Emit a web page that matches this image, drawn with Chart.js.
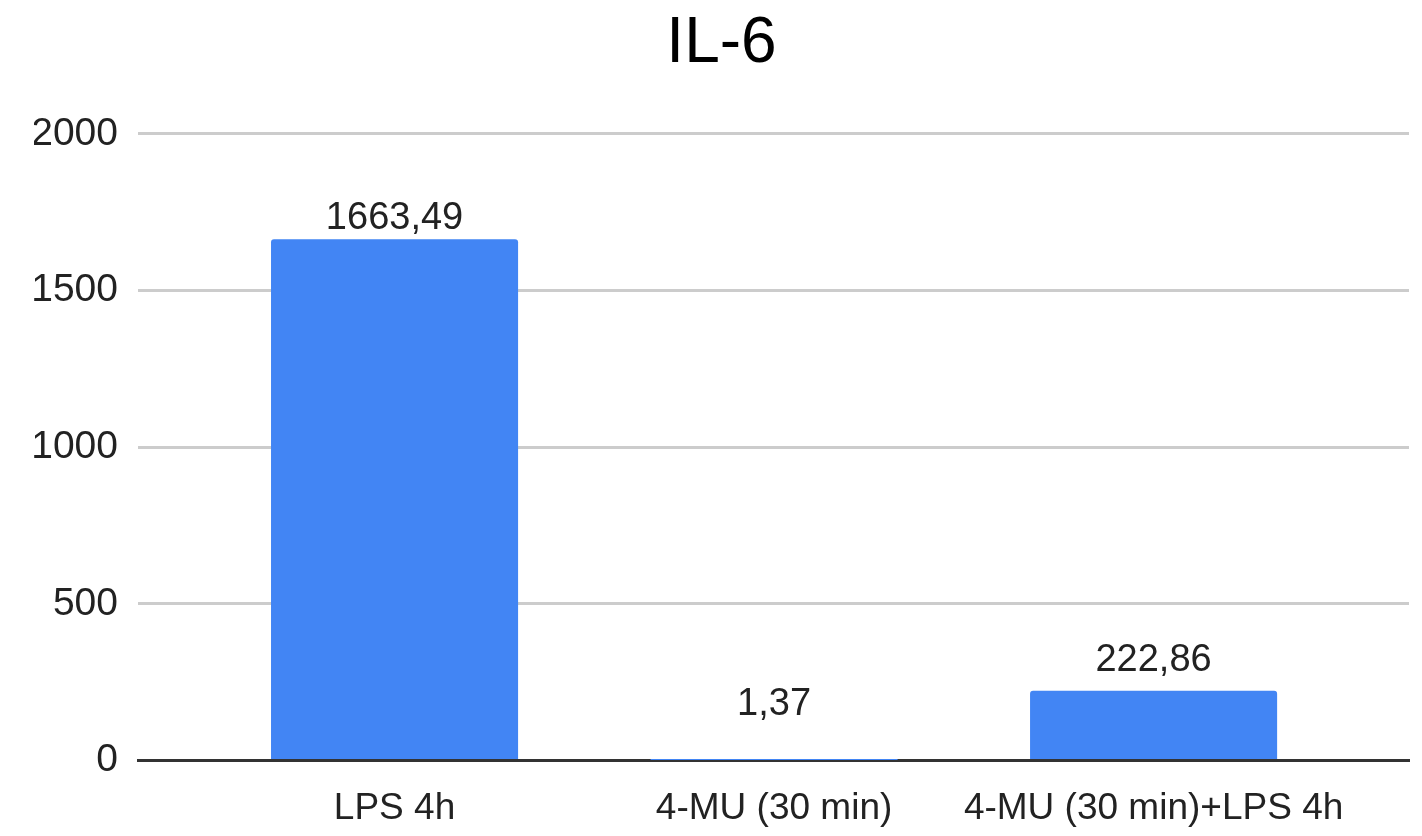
<!DOCTYPE html>
<html>
<head>
<meta charset="utf-8">
<title>IL-6</title>
<script src="https://cdn.jsdelivr.net/npm/chart.js@4"></script>
<style>
  html, body { margin: 0; padding: 0; background: #ffffff; }
  canvas { display: block; }
</style>
</head>
<body>
<canvas id="chart" width="1422" height="836"></canvas>
<script>
// IL-6 levels per treatment group
const chartTitle = 'IL-6';
const categories = ['LPS 4h', '4-MU (30 min)', '4-MU (30 min)+LPS 4h'];
const il6Values = [1663.49, 1.37, 222.86];
const yTickValues = [0, 500, 1000, 1500, 2000];

const FONT = '"Liberation Sans", Arial, sans-serif';

// Decimal comma formatting, e.g. 1663,49
const formatValue = v => v.toFixed(2).replace('.', ',');

// Writes each bar's value above it
const valueLabels = {
  id: 'valueLabels',
  afterDatasetsDraw(chart, args, opts) {
    const ctx = chart.ctx;
    const meta = chart.getDatasetMeta(0);
    const data = chart.data.datasets[0].data;
    ctx.save();
    ctx.font = `${opts.size}px ${FONT}`;
    ctx.fillStyle = opts.color;
    ctx.textAlign = 'center';
    ctx.textBaseline = 'alphabetic';
    meta.data.forEach((bar, i) => {
      ctx.fillText(formatValue(data[i].y), bar.x, bar.y - opts.gaps[i]);
    });
    ctx.restore();
  }
};

new Chart(document.getElementById('chart'), {
  type: 'bar',
  data: {
    datasets: [{
      label: chartTitle,
      data: il6Values.map((v, i) => ({ x: i, y: v })),
      backgroundColor: '#4285f4',
      borderWidth: 0,
      borderRadius: 3,
      categoryPercentage: 1,
      barPercentage: 0.651
    }]
  },
  options: {
    responsive: false,
    animation: false,
    devicePixelRatio: 1,
    layout: { padding: { top: 0, right: 13, bottom: 0, left: 34 } },
    plugins: {
      legend: { display: false },
      tooltip: { enabled: false },
      title: {
        display: true,
        text: chartTitle,
        color: '#000000',
        font: { family: FONT, size: 64, weight: 400 },
        padding: { top: 6, bottom: 51 }
      },
      valueLabels: { size: 38, color: '#222222', gaps: [10, 45, 20] }
    },
    scales: {
      x: {
        type: 'linear',
        offset: false,
        min: -0.676,
        max: 2.673,
        afterBuildTicks: s => { s.ticks = categories.map((_, i) => ({ value: i })); },
        afterFit: s => { s.height = 75.5; },
        grid: { display: false, offset: false },
        border: { display: true, color: '#333333', width: 3 },
        ticks: {
          padding: 18,
          color: '#222222',
          maxRotation: 0,
          autoSkip: false,
          font: { family: FONT, size: 37 },
          callback: v => categories[v] ?? ''
        }
      },
      y: {
        min: 0,
        max: 2000,
        afterBuildTicks: s => { s.ticks = yTickValues.map(v => ({ value: v })); },
        afterFit: s => { s.width = 104; },
        grid: {
          color: c => (c.tick && c.tick.value === 0 ? '#333333' : '#cccccc'),
          lineWidth: 3,
          drawTicks: false
        },
        border: { display: false },
        ticks: {
          padding: 20,
          color: '#222222',
          font: { family: FONT, size: 39 },
          callback: v => String(v)
        }
      }
    }
  },
  plugins: [valueLabels]
});
</script>
</body>
</html>
